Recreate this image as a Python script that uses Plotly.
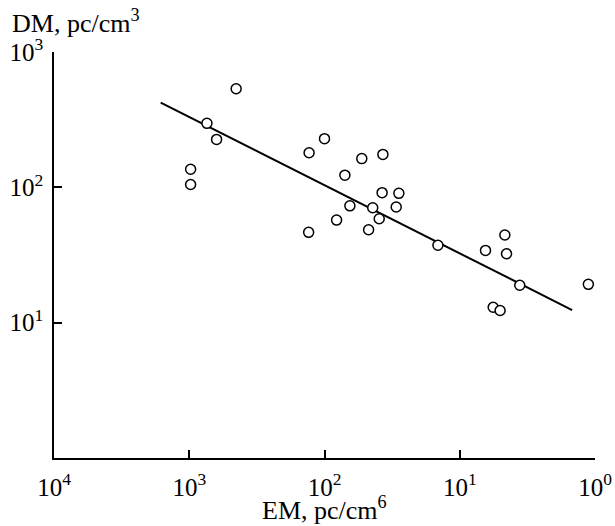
import plotly.graph_objects as go

em = [450, 740, 628, 977, 977, 130, 100, 53, 70.7, 64.9, 44, 81.4, 131, 47.2, 39.4,
      37, 37.5, 28.2, 29.5, 14.5, 4.64, 6.45, 4.51, 3.6, 1.12, 5.66, 5.03]
dm = [535, 297, 226, 136, 105, 180, 229, 163, 123, 73, 70.7, 57.3, 46.5, 48.6, 58.6,
      175, 91.3, 90.3, 71.5, 37.3, 44.4, 34.2, 32.3, 18.9, 19.2, 13.0, 12.3]

fit_em = [1626, 1.476]
fit_dm = [422, 12.4]

x_tickvals = [1e4, 1e3, 1e2, 1e1, 1e0]
x_ticktext = ["10<sup>4</sup>", "10<sup>3</sup>", "10<sup>2</sup>", "10<sup>1</sup>", "10<sup>0</sup>"]
y_tickvals = [1e1, 1e2, 1e3]
y_ticktext = ["10<sup>1</sup>", "10<sup>2</sup>", "10<sup>3</sup>"]

FONT = "Liberation Serif"

fig = go.Figure()
fig.add_trace(go.Scatter(x=fit_em, y=fit_dm, mode="lines",
                         line=dict(color="black", width=2), showlegend=False,
                         hoverinfo="skip"))
fig.add_trace(go.Scatter(x=em, y=dm, mode="markers",
                         marker=dict(symbol="circle", size=10, color="white",
                                     line=dict(color="black", width=1.5)),
                         showlegend=False))

fig.update_layout(
    width=615, height=526,
    margin=dict(l=54, r=20, t=52, b=68),
    paper_bgcolor="white", plot_bgcolor="white",
    font=dict(family=FONT, size=25, color="black"),
    xaxis=dict(type="log", range=[4, 0], showgrid=False, zeroline=False,
               automargin=False,
               showline=True, linecolor="black", linewidth=1.5,
               ticks="inside", ticklen=8, tickwidth=1.5, tickcolor="black",
               tickvals=x_tickvals, ticktext=x_ticktext, ticklabelstandoff=6,
               tickfont=dict(family=FONT, size=25)),
    yaxis=dict(type="log", range=[0, 3], showgrid=False, zeroline=False,
               automargin=False,
               showline=True, linecolor="black", linewidth=1.5,
               ticks="inside", ticklen=8, tickwidth=1.5, tickcolor="black",
               tickvals=y_tickvals, ticktext=y_ticktext, ticklabelstandoff=4,
               tickfont=dict(family=FONT, size=25)),
    annotations=[
        dict(text="EM, pc/cm<sup>6</sup>", xref="paper", yref="paper",
             x=0.5, y=0, yshift=-50, xanchor="center", yanchor="middle",
             showarrow=False, font=dict(family=FONT, size=26)),
        dict(text="DM, pc/cm<sup>3</sup>", xref="paper", yref="paper",
             x=0, xshift=-44, y=1, yshift=31, xanchor="left", yanchor="middle",
             showarrow=False, font=dict(family=FONT, size=26)),
    ],
)

fig.write_html("out.html", config={"displayModeBar": False},
               post_script="document.body.style.margin='0';")
